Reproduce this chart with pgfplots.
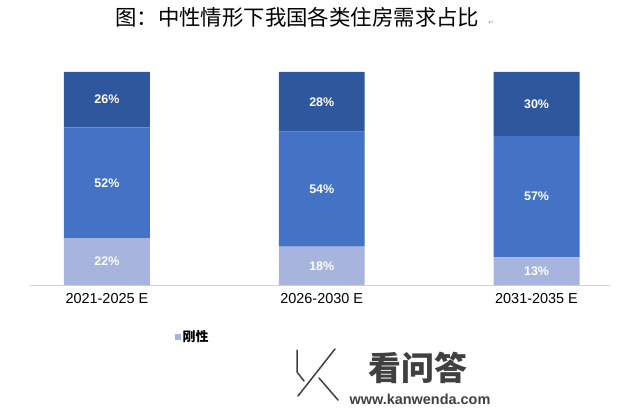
\documentclass[border=0pt]{standalone}
\usepackage{fontspec}
\usepackage{pgfplots}
\usepackage{pgfplotstable}
\pgfplotsset{compat=1.18}
\setmainfont{Liberation Sans}
\newfontfamily\cjk{Noto Sans CJK SC}
\newfontfamily\sym{DejaVu Sans}
\definecolor{cA}{RGB}{167,180,222}
\definecolor{cB}{RGB}{68,114,196}
\definecolor{cC}{RGB}{47,87,158}
\pgfplotstableread{
x a b c
0 22 52 26
1 18 54 28
2 13 57 30
}\datatab
\begin{document}
\begin{tikzpicture}[x=1bp,y=1bp]
\path[use as bounding box] (0,0) rectangle (640,409);
\node[anchor=west,inner sep=0,font=\cjk\fontsize{21.5}{24}\selectfont] at (115,392) {图：中性情形下我国各类住房需求占比};
\node[inner sep=0,font=\sym\fontsize{6}{7}\selectfont,text=gray] at (491,386) {↵};
\begin{axis}[at={(30bp,124bp)}, anchor=south west, scale only axis,
  width=580bp, height=213bp,
  ybar stacked, bar width=0.4, ymin=0, ymax=100, xmin=-0.358, xmax=2.342,
  axis x line*=bottom, hide y axis,
  x axis line style={draw=black!18, line width=1bp},
  xtick={0,1,2}, xticklabels={2021-2025 E,2026-2030 E,2031-2035 E},
  major tick length=0,
  /pgf/number format/assume math mode=true,
  xticklabel style={font=\fontsize{14.5}{16}\selectfont, yshift=-5bp},
  nodes near coords={\pgfmathprintnumber{\rawy}\%},
  every node near coord/.append style={font=\bfseries\fontsize{12.5}{15}\selectfont, text=white, anchor=center},
  legend style={at={(0.244,-0.244)}, anchor=west, draw=none, fill=none, font=\cjk\bfseries\fontsize{13}{15}\selectfont},
  legend image code/.code={\fill[#1] (0bp,-3bp) rectangle (6bp,3bp);},
  clip=false]
\addplot[fill=cA, draw=none, visualization depends on={\thisrow{a} \as \rawy}] table[x=x,y=a] {\datatab};
\addlegendentry{刚性}
\addplot[fill=cB, draw=none, forget plot, visualization depends on={\thisrow{b} \as \rawy}] table[x=x,y=b] {\datatab};
\addplot[fill=cC, draw=none, forget plot, visualization depends on={\thisrow{c} \as \rawy}] table[x=x,y=c] {\datatab};
\end{axis}
\begin{scope}[black!75, line width=1.5bp, double=white, double distance=3.5bp, line cap=round, line join=round]
\draw (335,60) -- (298,13);
\draw (319,31) -- (338,9);
\draw (297,59) -- (297,37) -- (304,28);
\end{scope}
\node[font=\cjk\bfseries\fontsize{33}{34}\selectfont, text=black!75] at (418,41) {看问答};
\node[font=\bfseries\fontsize{14.5}{15}\selectfont, text=black!75] at (420,10) {www.kanwenda.com};
\end{tikzpicture}
\end{document}
